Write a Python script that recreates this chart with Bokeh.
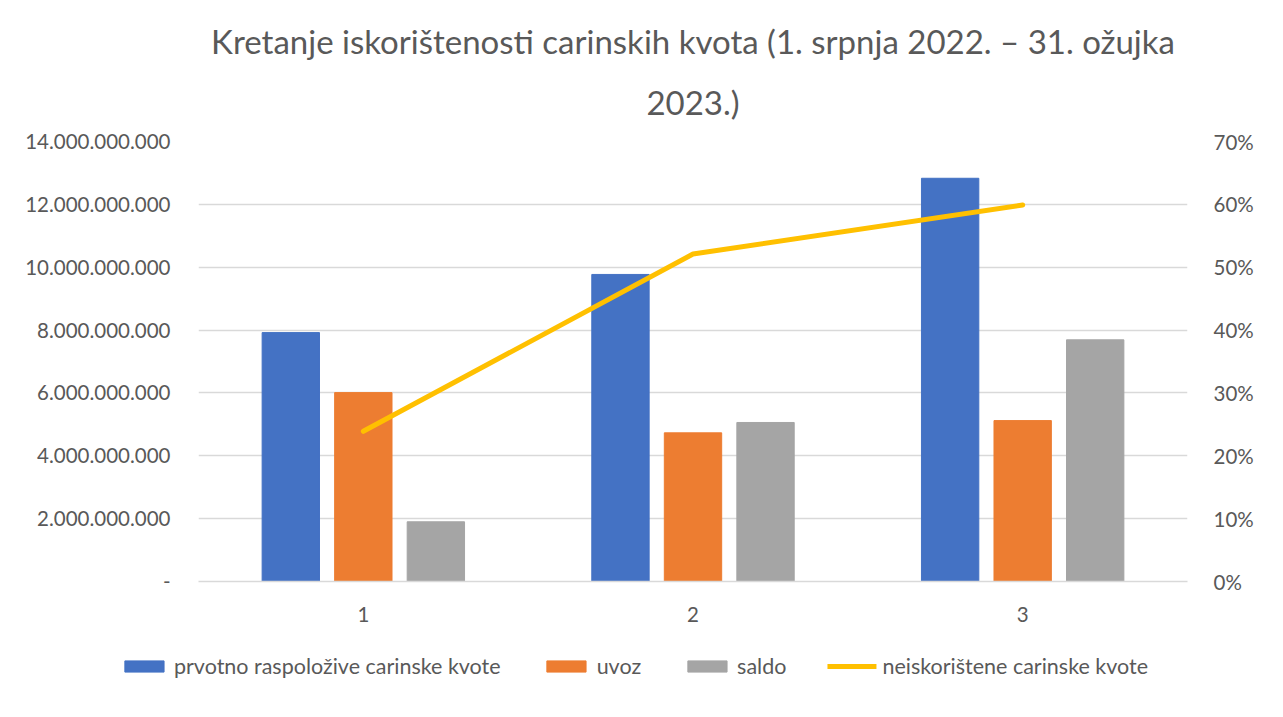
from bokeh.plotting import figure
from bokeh.models import (ColumnDataSource, FactorRange, Range1d, LinearAxis, FixedTicker,
                          Legend, LegendItem, Title)
from bokeh.layouts import column, row
from bokeh.transform import dodge
from bokeh.embed import file_html
from bokeh.resources import INLINE

# ---- data ----
categories = ["1", "2", "3"]
prvotno = [7.92e9, 9.77e9, 12.83e9]
uvoz = [6.01e9, 4.73e9, 5.12e9]
saldo = [1.90e9, 5.06e9, 7.69e9]
neiskoristene = [0.239, 0.521, 0.599]

left_ticks = [0, 2e9, 4e9, 6e9, 8e9, 10e9, 12e9, 14e9]
left_tick_labels = ["-", "2.000.000.000", "4.000.000.000", "6.000.000.000", "8.000.000.000",
                    "10.000.000.000", "12.000.000.000", "14.000.000.000"]
right_ticks = [0, 0.1, 0.2, 0.3, 0.4, 0.5, 0.6, 0.7]
right_tick_labels = ["0%", "10%", "20%", "30%", "40%", "50%", "60%", "70%"]

series_names = ["prvotno raspoložive carinske kvote", "uvoz", "saldo", "neiskorištene carinske kvote"]
title_line1 = "Kretanje iskorištenosti carinskih kvota (1. srpnja 2022. – 31. ožujka"
title_line2 = "2023.)"

FONT = "Lato"
TXT = "#595959"
GRID = "#D9D9D9"
COLORS = ["#4472C4", "#ED7D31", "#A5A5A5", "#FFC000"]

src = ColumnDataSource(dict(cat=categories, a=prvotno, b=uvoz, c=saldo, p=neiskoristene))

W = 1267
H_MAIN, H_LEG = 630, 71
p = figure(width=W, height=H_MAIN, x_range=FactorRange(*categories, range_padding=0),
           y_range=Range1d(0, 14e9), output_backend="svg", toolbar_location=None,
           min_border_left=198, min_border_right=80, min_border_top=141, min_border_bottom=49)
p.extra_y_ranges = {"pct": Range1d(0, 0.7)}
p.outline_line_color = None
p.background_fill_color = "white"
p.border_fill_color = "white"

p.title.visible = False
t2 = Title(text=title_line2, align="center", text_font=FONT, text_font_size="33px",
           text_font_style="normal", text_color=TXT, standoff=39)
t1 = Title(text=title_line1, align="center", text_font=FONT, text_font_size="33px",
           text_font_style="normal", text_color=TXT, standoff=0)
p.add_layout(t2, "above")
p.add_layout(t1, "above")

bw = 0.174
r1 = p.vbar(x=dodge("cat", -0.22, range=p.x_range), top="a", width=bw, source=src, color=COLORS[0])
r2 = p.vbar(x=dodge("cat", 0.0, range=p.x_range), top="b", width=bw, source=src, color=COLORS[1])
r3 = p.vbar(x=dodge("cat", 0.22, range=p.x_range), top="c", width=bw, source=src, color=COLORS[2])
r4 = p.line(x="cat", y="p", source=src, y_range_name="pct", line_color=COLORS[3],
            line_width=5, line_cap="round", line_join="round")

# left axis
ya = p.yaxis[0]
ya.ticker = FixedTicker(ticks=left_ticks)
ya.major_label_overrides = {t: l for t, l in zip(left_ticks, left_tick_labels)}
ya.axis_line_color = None
ya.major_tick_line_color = None
ya.minor_tick_line_color = None
ya.major_label_text_font = FONT
ya.major_label_text_font_size = "20.5px"
ya.major_label_text_color = TXT
ya.major_label_standoff = 22

# right axis
ra = LinearAxis(y_range_name="pct", ticker=FixedTicker(ticks=right_ticks))
ra.major_label_overrides = {t: l for t, l in zip(right_ticks, right_tick_labels)}
ra.axis_line_color = None
ra.major_tick_line_color = None
ra.minor_tick_line_color = None
ra.major_label_text_font = FONT
ra.major_label_text_font_size = "20.5px"
ra.major_label_text_color = TXT
ra.major_label_standoff = 20
p.add_layout(ra, "right")

xa = p.xaxis[0]
xa.axis_line_color = GRID
xa.axis_line_width = 1.5
xa.major_tick_line_color = None
xa.minor_tick_line_color = None
xa.major_label_text_font = FONT
xa.major_label_text_font_size = "20.5px"
xa.major_label_text_color = TXT
xa.major_label_standoff = 19

p.xgrid.grid_line_color = None
p.ygrid.grid_line_color = GRID
p.ygrid.grid_line_width = 1.5
p.ygrid.ticker = FixedTicker(ticks=left_ticks)

# ---- legend strip (separate figure so it is not clipped by the chart frame) ----
lf = figure(width=W, height=H_LEG, x_range=Range1d(0, 1), y_range=Range1d(0, 1),
            output_backend="svg", toolbar_location=None,
            min_border_left=0, min_border_right=0, min_border_top=0, min_border_bottom=0,
            x_axis_location=None, y_axis_location=None)
lf.grid.visible = False
lf.outline_line_color = None
lf.background_fill_color = "white"
lf.border_fill_color = "white"
nan = float("nan")
dummy = ColumnDataSource(dict(x=[nan], y=[nan]))
l1 = lf.vbar(x="x", top="y", width=0.1, source=dummy, color=COLORS[0])
l2 = lf.vbar(x="x", top="y", width=0.1, source=dummy, color=COLORS[1])
l3 = lf.vbar(x="x", top="y", width=0.1, source=dummy, color=COLORS[2])
l4 = lf.line(x="x", y="y", source=dummy, line_color=COLORS[3], line_width=5, line_cap="round")

legend = Legend(items=[LegendItem(label=series_names[0], renderers=[l1]),
                       LegendItem(label=series_names[1], renderers=[l2]),
                       LegendItem(label=series_names[2], renderers=[l3]),
                       LegendItem(label=series_names[3], renderers=[l4])],
                orientation="horizontal", location="center",
                label_text_font=FONT, label_text_font_size="21.5px", label_text_color=TXT,
                glyph_width=49, glyph_height=14, label_standoff=6, spacing=41,
                border_line_color=None, background_fill_alpha=0, margin=0, padding=2)
lf.add_layout(legend, "center")

layout = column(p, row(lf), spacing=0)
open("out.html", "w").write(file_html(layout, INLINE))
